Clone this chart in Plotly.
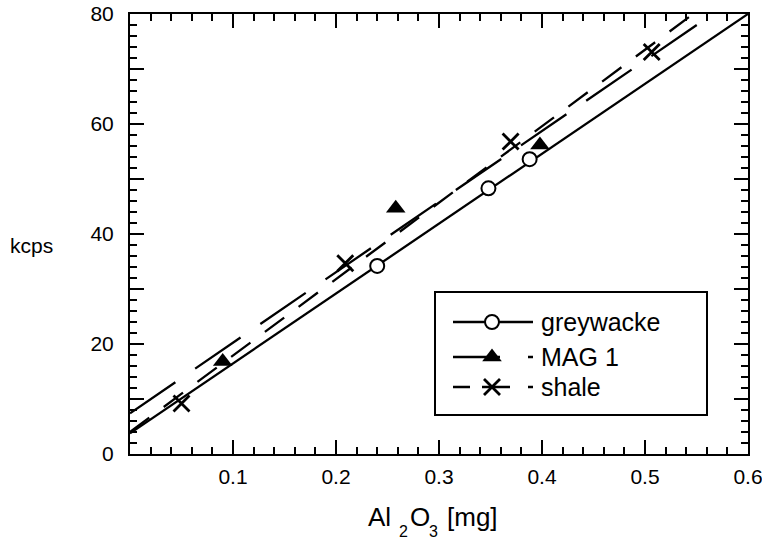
import plotly.graph_objects as go

# ---- data ----
series_names = ["greywacke", "MAG 1", "shale"]

greywacke_x = [0.240, 0.348, 0.388]
greywacke_y = [34.2, 48.3, 53.6]

mag1_x = [0.090, 0.258, 0.398]
mag1_y = [16.8, 44.7, 56.2]

shale_x = [0.050, 0.209, 0.3695, 0.5065]
shale_y = [9.2, 34.7, 56.8, 73.1]

# calibration lines: kcps = intercept + slope * mg
line_intercepts = [3.75, 7.4, 4.0]
line_slopes = [127.1, 128.3, 139.0]

x_range = [0.0, 0.6]
y_range = [0.0, 80.0]
x_tick_vals = [0.0, 0.1, 0.2, 0.3, 0.4, 0.5, 0.6]
x_tick_text = ["", "0.1", "0.2", "0.3", "0.4", "0.5", "0.6"]
y_tick_vals = [0, 10, 20, 30, 40, 50, 60, 70, 80]
y_tick_text = ["0", "", "20", "", "40", "", "60", "", "80"]

# ---- layout geometry (pixels) ----
W, H = 762, 541
ML, MR, MT, MB = 130, 14, 14, 87
PW, PH = W - ML - MR, H - MT - MB
FONT = "Liberation Sans, Arial, Helvetica, sans-serif"


def px_u(px):
    return (px - ML) / PW


def px_v(py):
    return (MT + PH - py) / PH


xs = [greywacke_x, mag1_x, shale_x]
ys = [greywacke_y, mag1_y, shale_y]
markers = [
    dict(symbol="circle", size=14, color="white", line=dict(color="black", width=2)),
    dict(symbol="triangle-up", size=17, color="black", line=dict(color="black", width=0)),
    dict(symbol="x-thin-open", size=16, color="black", line=dict(color="black", width=2.8)),
]
line_dashes = ["solid", "55px,24px", "24px,18px"]
legend_dashes = ["solid", "47px,28px,5px", "17px,12px,28px,18px,5px"]
LW = 2.3

fig = go.Figure()

# fitted lines across the whole x range
for name, b, m, dash in zip(series_names, line_intercepts, line_slopes, line_dashes):
    lx = [x_range[0], x_range[1]]
    ly = [b + m * v for v in lx]
    fig.add_trace(go.Scatter(x=lx, y=ly, mode="lines", showlegend=False,
                             line=dict(color="black", width=LW, dash=dash),
                             hoverinfo="skip"))

# measured points
for name, x, y, mk in zip(series_names, xs, ys, markers):
    fig.add_trace(go.Scatter(x=x, y=y, mode="markers", name=name,
                             showlegend=False, marker=mk, cliponaxis=False))

# ---- legend drawn in an overlay coordinate system ----
leg_box = (435, 292, 707, 415)
leg_rows = [322, 357, 387]
leg_line = (453, 533)
leg_mark = 492
leg_text = 539

fig.add_shape(type="rect", xref="paper", yref="paper",
              x0=px_u(leg_box[0]), x1=px_u(leg_box[2]),
              y0=px_v(leg_box[3]), y1=px_v(leg_box[1]),
              line=dict(color="black", width=2), fillcolor="white", layer="below")

for name, row, mk, dash in zip(series_names, leg_rows, markers, legend_dashes):
    fig.add_trace(go.Scatter(x=[px_u(leg_line[0]), px_u(leg_line[1])],
                             y=[px_v(row), px_v(row)], xaxis="x2", yaxis="y2",
                             mode="lines", showlegend=False, hoverinfo="skip",
                             line=dict(color="black", width=LW, dash=dash)))
    fig.add_trace(go.Scatter(x=[px_u(leg_mark)], y=[px_v(row)], xaxis="x2", yaxis="y2",
                             mode="markers", showlegend=False, hoverinfo="skip",
                             marker=mk))
    fig.add_annotation(text=name, xref="paper", yref="paper",
                       x=px_u(leg_text), y=px_v(row), xanchor="left", yanchor="middle",
                       showarrow=False, font=dict(family=FONT, size=25, color="black"))

# ---- axis titles ----
fig.add_annotation(text="kcps", xref="paper", yref="paper", x=px_u(8), y=px_v(245),
                   xanchor="left", yanchor="middle", showarrow=False,
                   font=dict(family=FONT, size=21, color="black"))

title_parts = [("Al", 366, 516.5, 26), ("2", 397, 531, 16), ("O", 408, 516.5, 26),
               ("3", 427, 531, 16), ("[mg]", 445, 516.5, 26)]
for txt, px, py, sz in title_parts:
    fig.add_annotation(text=txt, xref="paper", yref="paper", x=px_u(px), y=px_v(py),
                       xanchor="left", yanchor="middle", showarrow=False,
                       font=dict(family=FONT, size=sz, color="black"))

axis_common = dict(showline=True, linecolor="black", linewidth=2, mirror="ticks",
                   ticks="inside", ticklen=14, tickwidth=2, tickcolor="black",
                   showgrid=False, zeroline=False, automargin=False,
                   ticklabeloverflow="allow",
                   tickfont=dict(family=FONT, size=21, color="black"))

fig.update_layout(
    width=W, height=H,
    margin=dict(l=ML, r=MR, t=MT, b=MB, autoexpand=False),
    paper_bgcolor="white", plot_bgcolor="white",
    showlegend=False,
    xaxis=dict(range=x_range, tickmode="array", tickvals=x_tick_vals, ticktext=x_tick_text,
               ticklabelstandoff=3,
               minor=dict(tickmode="linear", tick0=0, dtick=0.02, ticks="inside",
                          ticklen=7, tickwidth=2, tickcolor="black"),
               **axis_common),
    yaxis=dict(range=y_range, tickmode="array", tickvals=y_tick_vals, ticktext=y_tick_text,
               ticklabelstandoff=10,
               minor=dict(tickmode="linear", tick0=0, dtick=2, ticks="inside",
                          ticklen=7, tickwidth=2, tickcolor="black"),
               **axis_common),
    xaxis2=dict(range=[0, 1], overlaying="x", visible=False, fixedrange=True),
    yaxis2=dict(range=[0, 1], overlaying="y", visible=False, fixedrange=True),
)

fig.write_html("out.html")
